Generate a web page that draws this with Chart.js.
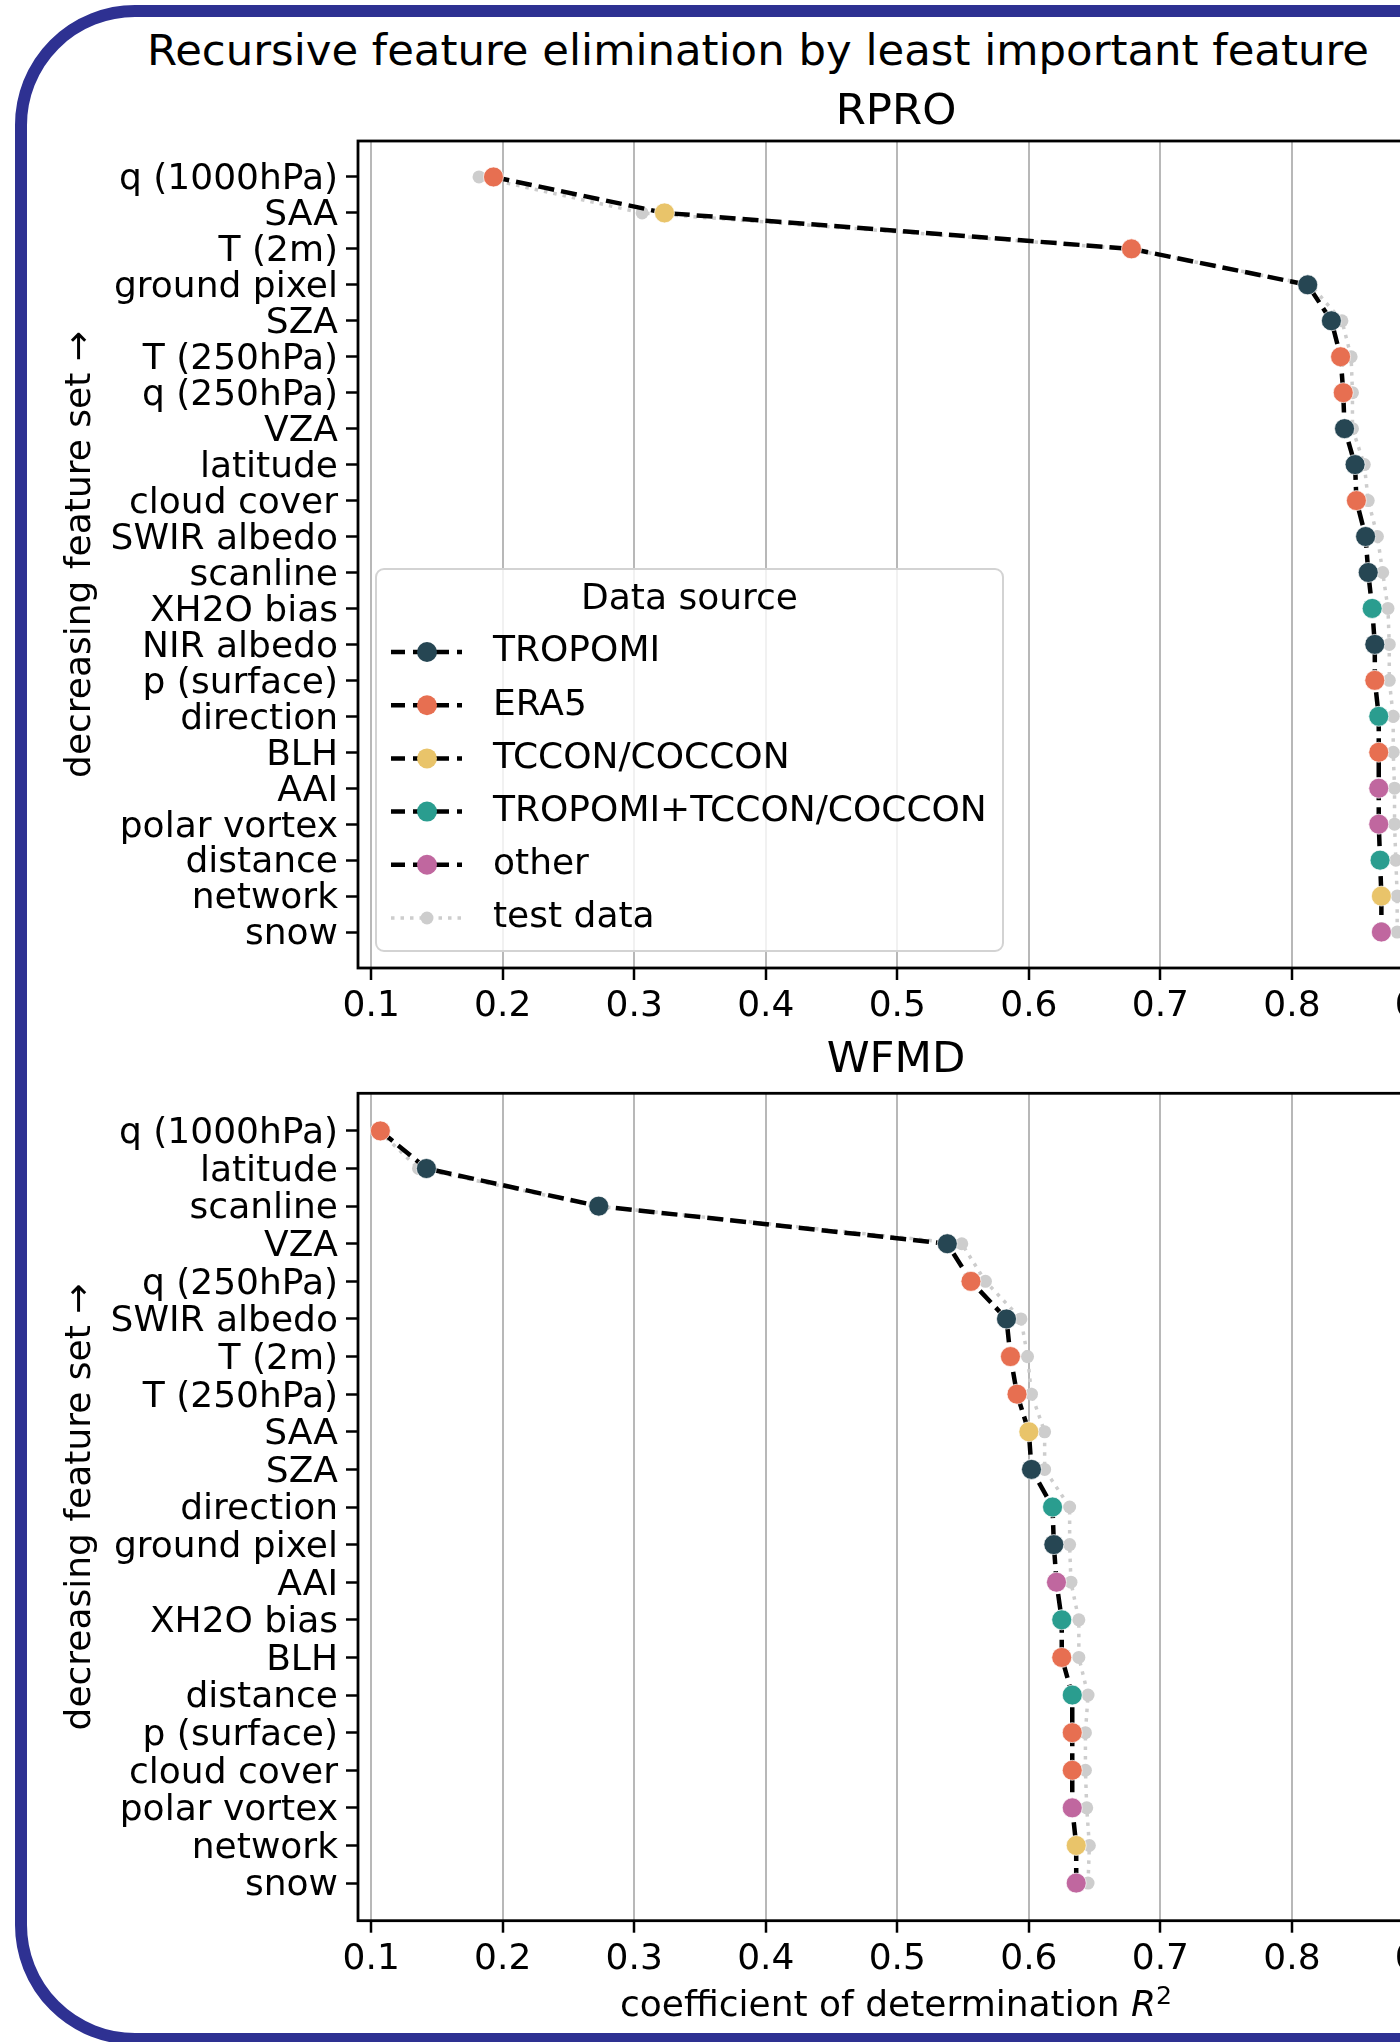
<!DOCTYPE html>
<html>
<head>
<meta charset="utf-8">
<script src="https://cdn.jsdelivr.net/npm/chart.js@4.4.1/dist/chart.umd.min.js"></script>
<style>
html, body { margin: 0; padding: 0; width: 1400px; height: 2042px; overflow: hidden; background: #fff; }
#frame { position: absolute; left: 15px; top: 5px; width: 1700px; height: 2040px; box-sizing: border-box;
         border: 12px solid #2e3192; border-radius: 120px; }
#suptitle { position: absolute; left: 0; top: 24px; width: 1516px; text-align: center;
            font: 43.4px 'DejaVu Sans'; line-height: 52px; color: #000; }
canvas { position: absolute; left: 0; }
#rpro { top: 0; }
#wfmd { top: 1030px; }
</style>
</head>
<body>
<div id="frame"></div>
<div id="suptitle">Recursive feature elimination by least important feature</div>
<canvas id="rpro" width="1516" height="1030"></canvas>
<canvas id="wfmd" width="1516" height="1012"></canvas>
<script>
// ---- data ----
const xTicks = [0.1, 0.2, 0.3, 0.4, 0.5, 0.6, 0.7, 0.8, 0.9];
const sources = ['TROPOMI', 'ERA5', 'TCCON/COCCON', 'TROPOMI+TCCON/COCCON', 'other'];

const rproFeatures = ['q (1000hPa)', 'SAA', 'T (2m)', 'ground pixel', 'SZA', 'T (250hPa)', 'q (250hPa)',
  'VZA', 'latitude', 'cloud cover', 'SWIR albedo', 'scanline', 'XH2O bias', 'NIR albedo', 'p (surface)',
  'direction', 'BLH', 'AAI', 'polar vortex', 'distance', 'network', 'snow'];
const rproR2 = [0.193, 0.323, 0.678, 0.812, 0.830, 0.837, 0.839, 0.840, 0.848, 0.849, 0.856, 0.858,
  0.861, 0.863, 0.863, 0.866, 0.866, 0.866, 0.866, 0.867, 0.868, 0.868];
const rproTest = [0.182, 0.306, 0.676, 0.814, 0.838, 0.845, 0.846, 0.846, 0.855, 0.858, 0.865, 0.869,
  0.873, 0.874, 0.874, 0.877, 0.877, 0.878, 0.878, 0.879, 0.880, 0.880];
const rproSource = ['ERA5', 'TCCON/COCCON', 'ERA5', 'TROPOMI', 'TROPOMI', 'ERA5', 'ERA5', 'TROPOMI',
  'TROPOMI', 'ERA5', 'TROPOMI', 'TROPOMI', 'TROPOMI+TCCON/COCCON', 'TROPOMI', 'ERA5',
  'TROPOMI+TCCON/COCCON', 'ERA5', 'other', 'other', 'TROPOMI+TCCON/COCCON', 'TCCON/COCCON', 'other'];

const wfmdFeatures = ['q (1000hPa)', 'latitude', 'scanline', 'VZA', 'q (250hPa)', 'SWIR albedo', 'T (2m)',
  'T (250hPa)', 'SAA', 'SZA', 'direction', 'ground pixel', 'AAI', 'XH2O bias', 'BLH', 'distance',
  'p (surface)', 'cloud cover', 'polar vortex', 'network', 'snow'];
const wfmdR2 = [0.107, 0.142, 0.273, 0.538, 0.556, 0.583, 0.586, 0.591, 0.600, 0.602, 0.618, 0.619,
  0.621, 0.625, 0.625, 0.633, 0.633, 0.633, 0.633, 0.636, 0.636];
const wfmdTest = [0.106, 0.136, 0.272, 0.549, 0.567, 0.594, 0.599, 0.602, 0.612, 0.612, 0.631, 0.631,
  0.632, 0.638, 0.638, 0.645, 0.643, 0.643, 0.644, 0.646, 0.645];
const wfmdSource = ['ERA5', 'TROPOMI', 'TROPOMI', 'TROPOMI', 'ERA5', 'TROPOMI', 'ERA5', 'ERA5',
  'TCCON/COCCON', 'TROPOMI', 'TROPOMI+TCCON/COCCON', 'TROPOMI', 'other', 'TROPOMI+TCCON/COCCON', 'ERA5',
  'TROPOMI+TCCON/COCCON', 'ERA5', 'ERA5', 'other', 'TCCON/COCCON', 'other'];

// ---- style ----
const colors = {
  'TROPOMI': '#264653',
  'ERA5': '#e76f51',
  'TCCON/COCCON': '#e9c46a',
  'TROPOMI+TCCON/COCCON': '#2a9d8f',
  'other': '#c0679f'
};
const testGray = '#cdcdcd';
const FONT = "'DejaVu Sans', sans-serif";
const FS = 36;

Chart.defaults.font.family = FONT;
Chart.defaults.color = '#000';

const framePlugin = {
  id: 'frame',
  afterDatasetsDraw(chart) {
    const a = chart.chartArea, ctx = chart.ctx;
    ctx.save();
    ctx.strokeStyle = '#000';
    ctx.lineWidth = 2.8;
    ctx.strokeRect(a.left, a.top, a.right - a.left, a.bottom - a.top);
    ctx.restore();
  }
};

const legendPlugin = {
  id: 'sourceLegend',
  afterDraw(chart) {
    const ctx = chart.ctx;
    const bx = 376, by = 569, bw = 627, bh = 382;
    ctx.save();
    ctx.beginPath();
    ctx.roundRect(bx, by, bw, bh, 8);
    ctx.fillStyle = 'rgba(255,255,255,0.8)';
    ctx.fill();
    ctx.strokeStyle = '#d3d3d3';
    ctx.lineWidth = 2;
    ctx.stroke();

    ctx.fillStyle = '#000';
    ctx.font = FS + 'px ' + FONT;
    ctx.textAlign = 'center';
    ctx.textBaseline = 'middle';
    ctx.fillText('Data source', bx + bw / 2, 600);

    const items = sources.map(s => ({ label: s, color: colors[s], test: false }));
    items.push({ label: 'test data', color: testGray, test: true });
    items.forEach((it, k) => {
      const y = 652 + k * 53.2;
      ctx.beginPath();
      ctx.moveTo(391, y);
      ctx.lineTo(462, y);
      ctx.strokeStyle = it.test ? testGray : '#000';
      ctx.lineWidth = it.test ? 3.5 : 4.5;
      ctx.setLineDash(it.test ? [3.5, 6] : [14, 8]);
      ctx.stroke();
      ctx.setLineDash([]);
      ctx.beginPath();
      ctx.arc(427, y, it.test ? 6.5 : 10, 0, Math.PI * 2);
      ctx.fillStyle = it.color;
      ctx.fill();
      ctx.fillStyle = '#000';
      ctx.textAlign = 'left';
      ctx.fillText(it.label, 493, y);
    });
    ctx.restore();
  }
};

const xLabelPlugin = {
  id: 'xLabel',
  afterDraw(chart) {
    const ctx = chart.ctx, a = chart.chartArea;
    const base = 986;
    const parts = [
      { t: 'coefficient of determination ', f: FS + 'px ' + FONT, dy: 0 },
      { t: 'R', f: 'oblique ' + FS + 'px ' + FONT, dy: 0 },
      { t: '2', f: (FS * 0.7) + 'px ' + FONT, dy: -12 }
    ];
    ctx.save();
    ctx.fillStyle = '#000';
    ctx.textBaseline = 'alphabetic';
    ctx.textAlign = 'left';
    let total = 0;
    parts.forEach(p => { ctx.font = p.f; p.w = ctx.measureText(p.t).width; total += p.w; });
    let x = (a.left + a.right) / 2 - total / 2;
    parts.forEach(p => { ctx.font = p.f; ctx.fillText(p.t, x, base + p.dy); x += p.w; });
    ctx.restore();
  }
};

function buildChart(id, title, features, r2, test, source, cfg) {
  const n = features.length;
  return new Chart(document.getElementById(id), {
    type: 'scatter',
    data: {
      datasets: [
        {
          label: 'validation',
          data: r2.map((v, i) => ({ x: v, y: i })),
          showLine: true,
          borderColor: '#000',
          borderWidth: 4.5,
          borderDash: [16, 7],
          pointRadius: 10,
          pointHoverRadius: 10,
          pointBackgroundColor: source.map(s => colors[s]),
          pointBorderColor: 'rgba(255,255,255,0.7)',
          pointBorderWidth: 1
        },
        {
          label: 'test data',
          data: test.map((v, i) => ({ x: v, y: i })),
          showLine: true,
          borderColor: testGray,
          borderWidth: 3.5,
          borderDash: [3.5, 6],
          pointRadius: 6.5,
          pointHoverRadius: 6.5,
          pointBackgroundColor: testGray,
          pointBorderWidth: 0
        }
      ]
    },
    options: {
      responsive: false,
      animation: false,
      events: [],
      layout: { padding: { top: cfg.padTop, right: 82, left: 0, bottom: 0 } },
      plugins: {
        legend: { display: false },
        tooltip: { enabled: false },
        title: {
          display: true, text: title, fullSize: false, color: '#000',
          font: { size: 43.4, weight: 'normal' }, padding: cfg.titlePad
        }
      },
      scales: {
        x: {
          type: 'linear', min: 0.09, max: 0.908,
          afterBuildTicks: s => { s.ticks = xTicks.map(v => ({ value: v })); },
          afterFit: s => { s.height = cfg.xHeight; },
          ticks: { autoSkip: false, maxRotation: 0, padding: 5, font: { size: FS }, callback: v => v.toFixed(1) },
          grid: { color: '#b8b8b8', lineWidth: 2, tickColor: '#000', tickLength: 12, tickWidth: 2.5 },
          border: { display: false }
        },
        y: {
          type: 'linear', reverse: true, min: -1, max: n,
          afterBuildTicks: s => { s.ticks = features.map((f, i) => ({ value: i })); },
          afterFit: s => { s.width = 358; },
          ticks: { autoSkip: false, padding: 8, labelOffset: 3, font: { size: FS }, callback: v => features[v] },
          grid: { drawOnChartArea: false, tickColor: '#000', tickLength: 12, tickWidth: 2.5 },
          border: { display: false },
          title: { display: true, text: 'decreasing feature set \u2192', font: { size: FS }, padding: { top: 59.4, bottom: 0 } }
        }
      }
    },
    plugins: cfg.plugins
  });
}

buildChart('rpro', 'RPRO', rproFeatures, rproR2, rproTest, rproSource, {
  padTop: 74, titlePad: { top: 12.96, bottom: 1.96 }, xHeight: 62, plugins: [framePlugin, legendPlugin]
});
buildChart('wfmd', 'WFMD', wfmdFeatures, wfmdR2, wfmdTest, wfmdSource, {
  padTop: 0, titlePad: { top: 4.96, bottom: 6.26 }, xHeight: 121.3, plugins: [framePlugin, xLabelPlugin]
});
</script>
</body>
</html>
